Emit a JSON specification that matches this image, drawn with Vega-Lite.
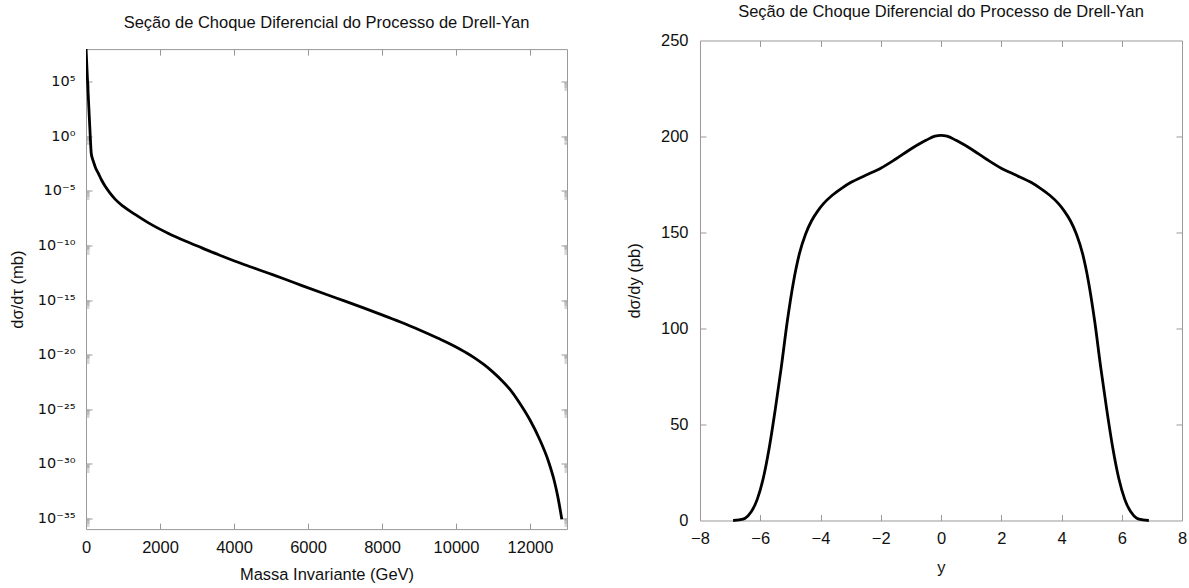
{
  "$schema": "https://vega.github.io/schema/vega-lite/v6.json",
  "background": "white",
  "padding": {"left": 9, "top": 3.5, "right": 0, "bottom": 0},
  "spacing": 58,
  "config": {
    "view": {"stroke": null},
    "axis": {"labelFont": "Liberation Sans", "labelFontSize": 16.5, "labelColor": "#111111", "titleFont": "Liberation Sans", "titleFontSize": 16.5, "titleFontWeight": "normal", "titleColor": "#111111", "tickColor": "#999999", "tickWidth": 1, "domain": false, "domainColor": "#999999", "domainWidth": 1, "grid": false, "labelFlush": false, "labelOverlap": false, "labelBound": false, "minExtent": 0},
    "title": {"font": "Liberation Sans", "fontSize": 16.5, "fontWeight": "normal", "color": "#111111", "anchor": "middle"}
  },
  "datasets": {
    "mass": [{"M":2,"ds":1e8},{"M":30,"ds":7.94e5},{"M":60,"ds":6.31e3},{"M":90,"ds":50.1},{"M":115,"ds":1},{"M":140,"ds":0.0316},{"M":170,"ds":0.01},{"M":200,"ds":5.01e-3},{"M":260,"ds":1.26e-3},{"M":335,"ds":3.98e-4},{"M":420,"ds":1e-4},{"M":514,"ds":2.82e-5},{"M":650,"ds":6.31e-6},{"M":785,"ds":1.78e-6},{"M":1000,"ds":3.98e-7},{"M":1326,"ds":7.08e-8},{"M":1700,"ds":1.12e-8},{"M":2230,"ds":1.26e-9},{"M":2700,"ds":2.4e-10},{"M":3131,"ds":6.03e-11},{"M":3600,"ds":1.32e-11},{"M":4032,"ds":3.55e-12},{"M":4500,"ds":9.55e-13},{"M":4936,"ds":2.82e-13},{"M":5400,"ds":7.59e-14},{"M":5838,"ds":2.09e-14},{"M":6500,"ds":3.16e-15},{"M":7000,"ds":7.94e-16},{"M":7500,"ds":1.905e-16},{"M":8000,"ds":4.37e-17},{"M":8500,"ds":9.55e-18},{"M":9000,"ds":1.905e-18},{"M":9500,"ds":3.31e-19},{"M":10000,"ds":5.01e-20},{"M":10250,"ds":1.66e-20},{"M":10500,"ds":5.01e-21},{"M":10750,"ds":1.23e-21},{"M":11000,"ds":2.45e-22},{"M":11250,"ds":3.8e-23},{"M":11500,"ds":4.27e-24},{"M":11750,"ds":2.51e-25},{"M":12000,"ds":1e-26},{"M":12250,"ds":2.0e-28},{"M":12500,"ds":1.585e-30},{"M":12650,"ds":3.16e-32},{"M":12750,"ds":1e-33},{"M":12860,"ds":7.94e-36}],
    "rap": [{"r":-6.9,"v":0},{"r":-6.7,"v":0.3},{"r":-6.5,"v":1.2},{"r":-6.3,"v":4.5},{"r":-6.1,"v":11},{"r":-5.9,"v":22},{"r":-5.7,"v":38},{"r":-5.5,"v":58},{"r":-5.3,"v":80},{"r":-5.1,"v":104},{"r":-4.9,"v":124},{"r":-4.7,"v":139},{"r":-4.5,"v":149},{"r":-4.3,"v":156},{"r":-4.1,"v":161},{"r":-3.9,"v":165},{"r":-3.6,"v":169.5},{"r":-3.3,"v":173},{"r":-3.0,"v":176},{"r":-2.5,"v":179.8},{"r":-2.0,"v":183.5},{"r":-1.5,"v":188.3},{"r":-1.0,"v":193.5},{"r":-0.5,"v":198},{"r":-0.2,"v":200.2},{"r":0,"v":200.6},{"r":0.2,"v":200.2},{"r":0.5,"v":198},{"r":1.0,"v":193.5},{"r":1.5,"v":188.3},{"r":2.0,"v":183.5},{"r":2.5,"v":179.8},{"r":3.0,"v":176},{"r":3.3,"v":173},{"r":3.6,"v":169.5},{"r":3.9,"v":165},{"r":4.1,"v":161},{"r":4.3,"v":156},{"r":4.5,"v":149},{"r":4.7,"v":139},{"r":4.9,"v":124},{"r":5.1,"v":104},{"r":5.3,"v":80},{"r":5.5,"v":58},{"r":5.7,"v":38},{"r":5.9,"v":22},{"r":6.1,"v":11},{"r":6.3,"v":4.5},{"r":6.5,"v":1.2},{"r":6.7,"v":0.3},{"r":6.9,"v":0}]
  },
  "hconcat": [
    {
      "width": 481,
      "height": 488.6,
      "title": {"text": "Seção de Choque Diferencial do Processo de Drell-Yan", "baseline": "bottom", "offset": -7},
      "data": {"name": "mass"},
      "layer": [
        {
          "mark": {"type": "line", "color": "black", "strokeWidth": 2.8, "clip": true, "interpolate": "monotone"},
          "encoding": {
            "x": {"field": "M", "type": "quantitative", "scale": {"domain": [0, 13000], "nice": false, "zero": false},
                  "axis": {"orient": "bottom", "values": [0, 2000, 4000, 6000, 8000, 10000, 12000], "format": "d", "ticks": false, "domain": true, "labelPadding": 10.5, "title": "Massa Invariante (GeV)", "titlePadding": 10}},
            "y": {"field": "ds", "type": "quantitative", "scale": {"type": "log", "domain": [1e-36, 1e8], "nice": false, "range": [488.6, 8.6]},
                  "axis": {"orient": "left", "values": [100000, 1, 1e-5, 1e-10, 1e-15, 1e-20, 1e-25, 1e-30, 1e-35], "ticks": false, "domain": true, "labelPadding": 11, "labelFont": "DejaVu Sans", "labelFontSize": 14.5,
                           "labelExpr": "'10' + replace(replace(replace(replace(replace(replace('' + round(log(datum.value)/LN10), '-', '⁻'), '0', '⁰'), '1', '¹'), '2', '²'), '3', '³'), '5', '⁵')",
                           "title": "dσ/dτ (mb)", "titlePadding": 11.5}}
          }
        },
        {
          "mark": {"type": "line", "opacity": 0},
          "encoding": {
            "x": {"field": "M", "type": "quantitative", "scale": {"domain": [0, 13000], "nice": false, "zero": false},
                  "axis": {"orient": "bottom", "values": [2000, 4000, 6000, 8000, 10000, 12000], "labels": false, "title": null, "tickSize": -6}},
            "y": {"field": "ds", "type": "quantitative", "scale": {"type": "log", "domain": [1e-36, 1e8], "nice": false, "range": [488.6, 8.6]},
                  "axis": {"orient": "left", "values": [100000, 1, 1e-5, 1e-10, 1e-15, 1e-20, 1e-25, 1e-30, 1e-35], "labels": false, "title": null, "tickSize": -6}}
          }
        },
        {
          "mark": {"type": "line", "opacity": 0},
          "encoding": {
            "x": {"field": "M", "type": "quantitative", "scale": {"domain": [0, 13000], "nice": false, "zero": false},
                  "axis": {"orient": "top", "offset": -8.6, "domain": true, "values": [2000, 4000, 6000, 8000, 10000, 12000], "labels": false, "title": null, "tickSize": -6}},
            "y": {"field": "ds", "type": "quantitative", "scale": {"type": "log", "domain": [1e-36, 1e8], "nice": false, "range": [488.6, 8.6]},
                  "axis": {"orient": "right", "domain": true, "values": [100000, 1, 1e-5, 1e-10, 1e-15, 1e-20, 1e-25, 1e-30, 1e-35], "labels": false, "title": null, "tickSize": -6}}
          }
        },
        {
          "mark": {"type": "line", "opacity": 0},
          "encoding": {
            "x": {"field": "M", "type": "quantitative", "scale": {"domain": [0, 13000], "nice": false, "zero": false}, "axis": null},
            "y": {"field": "ds", "type": "quantitative", "scale": {"type": "log", "domain": [1e-36, 1e8], "nice": false, "range": [488.6, 8.6]},
                  "axis": {"orient": "left", "labels": false, "title": null, "tickSize": -3, "tickColor": "#aaaaaa",
                           "values": [2e4,3e4,4e4,5e4,6e4,7e4,8e4,9e4,0.2,0.3,0.4,0.5,0.6,0.7,0.8,0.9,2e-6,3e-6,4e-6,5e-6,6e-6,7e-6,8e-6,9e-6,2e-11,3e-11,4e-11,5e-11,6e-11,7e-11,8e-11,9e-11,2e-16,3e-16,4e-16,5e-16,6e-16,7e-16,8e-16,9e-16,2e-21,3e-21,4e-21,5e-21,6e-21,7e-21,8e-21,9e-21,2e-26,3e-26,4e-26,5e-26,6e-26,7e-26,8e-26,9e-26,2e-31,3e-31,4e-31,5e-31,6e-31,7e-31,8e-31,9e-31,2e-36,3e-36,4e-36,5e-36,6e-36,7e-36,8e-36,9e-36]}}
          }
        },
        {
          "mark": {"type": "line", "opacity": 0},
          "encoding": {
            "x": {"field": "M", "type": "quantitative", "scale": {"domain": [0, 13000], "nice": false, "zero": false}, "axis": null},
            "y": {"field": "ds", "type": "quantitative", "scale": {"type": "log", "domain": [1e-36, 1e8], "nice": false, "range": [488.6, 8.6]},
                  "axis": {"orient": "right", "labels": false, "title": null, "tickSize": -3, "tickColor": "#aaaaaa",
                           "values": [2e4,3e4,4e4,5e4,6e4,7e4,8e4,9e4,0.2,0.3,0.4,0.5,0.6,0.7,0.8,0.9,2e-6,3e-6,4e-6,5e-6,6e-6,7e-6,8e-6,9e-6,2e-11,3e-11,4e-11,5e-11,6e-11,7e-11,8e-11,9e-11,2e-16,3e-16,4e-16,5e-16,6e-16,7e-16,8e-16,9e-16,2e-21,3e-21,4e-21,5e-21,6e-21,7e-21,8e-21,9e-21,2e-26,3e-26,4e-26,5e-26,6e-26,7e-26,8e-26,9e-26,2e-31,3e-31,4e-31,5e-31,6e-31,7e-31,8e-31,9e-31,2e-36,3e-36,4e-36,5e-36,6e-36,7e-36,8e-36,9e-36]}}
          }
        }
      ],
      "resolve": {"axis": {"x": "independent", "y": "independent"}}
    },
    {
      "width": 482,
      "height": 488.6,
      "title": {"text": "Seção de Choque Diferencial do Processo de Drell-Yan", "baseline": "bottom", "offset": -3.6},
      "data": {"name": "rap"},
      "layer": [
        {
          "mark": {"type": "line", "color": "black", "strokeWidth": 2.8, "interpolate": "monotone"},
          "encoding": {
            "x": {"field": "r", "type": "quantitative", "scale": {"domain": [-8, 8], "nice": false},
                  "axis": {"orient": "bottom", "offset": -8.6, "domain": true, "values": [-8, -6, -4, -2, 0, 2, 4, 6, 8], "format": "d", "ticks": false, "labelPadding": 10.5, "title": "y", "titlePadding": 12}},
            "y": {"field": "v", "type": "quantitative", "scale": {"domain": [0, 250], "nice": false, "range": [480, 0]},
                  "axis": {"orient": "left", "domain": true, "values": [0, 50, 100, 150, 200, 250], "ticks": false, "labelPadding": 12, "title": "dσ/dy (pb)", "titlePadding": 18}}
          }
        },
        {
          "mark": {"type": "line", "opacity": 0},
          "encoding": {
            "x": {"field": "r", "type": "quantitative", "scale": {"domain": [-8, 8], "nice": false},
                  "axis": {"orient": "bottom", "offset": -8.6, "values": [-6, -4, -2, 0, 2, 4, 6], "labels": false, "title": null, "tickSize": -6}},
            "y": {"field": "v", "type": "quantitative", "scale": {"domain": [0, 250], "nice": false, "range": [480, 0]},
                  "axis": {"orient": "left", "values": [50, 100, 150, 200], "labels": false, "title": null, "tickSize": -6}}
          }
        },
        {
          "mark": {"type": "line", "opacity": 0},
          "encoding": {
            "x": {"field": "r", "type": "quantitative", "scale": {"domain": [-8, 8], "nice": false},
                  "axis": {"orient": "top", "domain": true, "values": [-6, -4, -2, 0, 2, 4, 6], "labels": false, "title": null, "tickSize": -6}},
            "y": {"field": "v", "type": "quantitative", "scale": {"domain": [0, 250], "nice": false, "range": [480, 0]},
                  "axis": {"orient": "right", "domain": true, "values": [50, 100, 150, 200], "labels": false, "title": null, "tickSize": -6}}
          }
        }
      ],
      "resolve": {"axis": {"x": "independent", "y": "independent"}}
    }
  ]
}
